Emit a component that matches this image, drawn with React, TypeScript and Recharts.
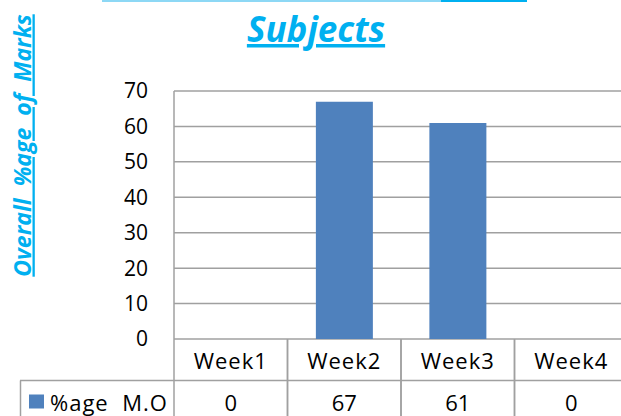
import React from 'react';
import { BarChart, Bar, XAxis, YAxis, CartesianGrid } from 'recharts';

const categories = ['Week1', 'Week2', 'Week3', 'Week4'];
const moValues = [0, 67, 61, 0];
const yTicks = [0, 10, 20, 30, 40, 50, 60, 70];
const seriesName = '%age  M.O';
const titleText = 'Subjects';
const yAxisLabel = 'Overall  %age  of  Marks';

const data = categories.map((c, i) => ({ week: c, mo: moValues[i] }));

const FONT = '"Open Sans", Lato, sans-serif';
const GRID = '#A0A0A0';
const BAR = '#4F81BD';
const CYAN = '#00B0F0';

function TableTick(props: any) {
  const { x, y, payload, index, width, visibleTicksCount, height } = props;
  const bw = width && visibleTicksCount ? width / visibleTicksCount : 113.5;
  const h = height || 77;
  const left = x - bw / 2;
  const rowH = 41.5;
  return (
    <g>
      <line x1={left} y1={y} x2={left} y2={y + h} stroke={GRID} strokeWidth={1.5} />
      <line x1={left + bw} y1={y} x2={left + bw} y2={y + h} stroke={GRID} strokeWidth={1.5} />
      <line x1={left} y1={y + rowH} x2={left + bw} y2={y + rowH} stroke={GRID} strokeWidth={1.5} />
      <text x={x} y={y + 21} textAnchor="middle" dominantBaseline="central" fontSize={22} letterSpacing={1} fontFamily={FONT} fill="#000">
        {payload.value}
      </text>
      <text x={x} y={y + 62.5} textAnchor="middle" dominantBaseline="central" fontSize={22} fontFamily={FONT} fill="#000">
        {moValues[index]}
      </text>
      {index === 0 && (
        <g>
          <line x1={20} y1={y + rowH} x2={left} y2={y + rowH} stroke={GRID} strokeWidth={1.5} />
          <line x1={20.5} y1={y + rowH} x2={20.5} y2={y + h} stroke={GRID} strokeWidth={1.5} />
          <rect x={29} y={y + rowH + 14} width={15} height={14} fill={BAR} />
          <text x={50} y={y + 62.5} dominantBaseline="central" fontSize={22} letterSpacing={1} fontFamily={FONT} fill="#000" style={{ whiteSpace: 'pre' }}>
            {seriesName}
          </text>
        </g>
      )}
    </g>
  );
}

export default function App() {
  return (
    <div style={{ position: 'absolute', left: 0, top: 0, width: 621, height: 416, overflow: 'hidden', background: '#fff' }}>
      <BarChart
        width={630}
        height={416}
        data={data}
        margin={{ top: 91, right: 2, left: 0, bottom: 0 }}
        barCategoryGap="25%"
      >
        <CartesianGrid horizontal vertical={false} stroke={GRID} strokeWidth={1.5} />
        <YAxis
          width={174}
          domain={[0, 70]}
          ticks={yTicks}
          interval={0}
          axisLine={{ stroke: GRID, strokeWidth: 1.5 }}
          tickLine={false}
          tickSize={0}
          tickMargin={26}
          tick={{ fontSize: 21, fontFamily: FONT, fill: '#000' }}
        />
        <XAxis
          dataKey="week"
          height={77}
          axisLine={false}
          tickLine={false}
          tickSize={0}
          tickMargin={0}
          interval={0}
          tick={<TableTick />}
        />
        <Bar dataKey="mo" fill={BAR} isAnimationActive={false} />
      </BarChart>
      <svg width={621} height={416} style={{ position: 'absolute', left: 0, top: 0, pointerEvents: 'none' }}>
        <rect x={102} y={0} width={339} height={2} fill="#8DD8F5" />
        <rect x={441} y={0} width={86} height={2} fill={CYAN} />
        <text
          x={316}
          y={42}
          textAnchor="middle"
          fontSize={35}
          fontWeight="bold"
          fontStyle="italic"
          fontFamily={FONT}
          fill={CYAN}
          style={{ textDecoration: 'underline' }}
        >
          {titleText}
        </text>
        <text
          transform="translate(30.5,145.5) rotate(-90)"
          textAnchor="middle"
          fontSize={23}
          fontWeight="bold"
          fontStyle="italic"
          fontFamily={FONT}
          fill={CYAN}
          style={{ textDecoration: 'underline', whiteSpace: 'pre' }}
        >
          {yAxisLabel}
        </text>
      </svg>
    </div>
  );
}
